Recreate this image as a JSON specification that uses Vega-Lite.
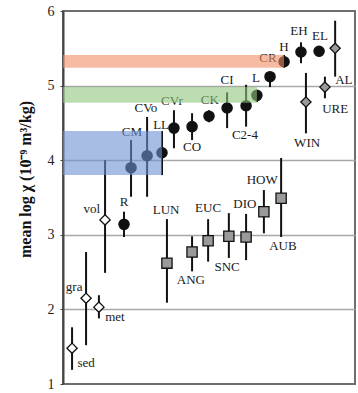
{
  "$schema": "https://vega.github.io/schema/vega-lite/v6.json",
  "autosize": {"type": "none"},
  "padding": {"left": 63, "top": 11, "right": 3, "bottom": 9},
  "width": 292,
  "height": 373,
  "background": "white",
  "config": {
    "view": {"stroke": "#6e6e6e", "strokeWidth": 2},
    "font": "Liberation Serif"
  },
  "datasets": {
    "pts": [
      {"name": "sed", "group": "terrestrial", "pos": 3.1, "val": 1.48, "lo": 1.19, "hi": 1.76, "lx": 7.9, "ly": 1.28},
      {"name": "gra", "group": "terrestrial", "pos": 7.9, "val": 2.15, "lo": 1.52, "hi": 2.77, "lx": 3.8, "ly": 2.30},
      {"name": "met", "group": "terrestrial", "pos": 12.3, "val": 2.03, "lo": 1.88, "hi": 2.19, "lx": 17.8, "ly": 1.90},
      {"name": "vol", "group": "terrestrial", "pos": 14.4, "val": 3.20, "lo": 2.49, "hi": 4.00, "lx": 9.9, "ly": 3.35},
      {"name": "R", "group": "chondrite", "pos": 20.9, "val": 3.14, "lo": 2.97, "hi": 3.31, "lx": 20.9, "ly": 3.44},
      {"name": "CM", "group": "chondrite", "pos": 23.3, "val": 3.90, "lo": 3.51, "hi": 4.27, "lx": 23.6, "ly": 4.38},
      {"name": "CVo", "group": "chondrite", "pos": 28.8, "val": 4.06, "lo": 3.51, "hi": 4.58, "lx": 28.4, "ly": 4.70},
      {"name": "LL", "group": "chondrite", "pos": 33.9, "val": 4.10, "lo": 3.80, "hi": 4.39, "lx": 33.6, "ly": 4.47},
      {"name": "LUN", "group": "achondrite", "pos": 35.6, "val": 2.62, "lo": 2.09, "hi": 3.21, "lx": 35.3, "ly": 3.33},
      {"name": "CVr", "group": "chondrite", "pos": 38.0, "val": 4.43, "lo": 4.16, "hi": 4.67, "lx": 37.3, "ly": 4.79},
      {"name": "CO", "group": "chondrite", "pos": 44.2, "val": 4.45, "lo": 4.27, "hi": 4.63, "lx": 44.2, "ly": 4.18},
      {"name": "ANG", "group": "achondrite", "pos": 44.2, "val": 2.77, "lo": 2.51, "hi": 2.98, "lx": 43.8, "ly": 2.39},
      {"name": "EUC", "group": "achondrite", "pos": 49.7, "val": 2.92, "lo": 2.64, "hi": 3.21, "lx": 49.7, "ly": 3.36},
      {"name": "CK", "group": "chondrite", "pos": 50.0, "val": 4.59, "lo": 4.51, "hi": 4.67, "lx": 50.3, "ly": 4.81},
      {"name": "CI", "group": "chondrite", "pos": 56.2, "val": 4.70, "lo": 4.43, "hi": 4.91, "lx": 56.2, "ly": 5.08},
      {"name": "SNC", "group": "achondrite", "pos": 56.8, "val": 2.98, "lo": 2.69, "hi": 3.29, "lx": 56.2, "ly": 2.57},
      {"name": "C2-4", "group": "chondrite", "pos": 62.7, "val": 4.73, "lo": 4.45, "hi": 5.01, "lx": 62.3, "ly": 4.34},
      {"name": "DIO", "group": "achondrite", "pos": 62.7, "val": 2.97, "lo": 2.66, "hi": 3.28, "lx": 62.3, "ly": 3.41},
      {"name": "L", "group": "chondrite", "pos": 66.4, "val": 4.87, "lo": 4.78, "hi": 4.94, "lx": 66.1, "ly": 5.10},
      {"name": "HOW", "group": "achondrite", "pos": 68.8, "val": 3.31, "lo": 3.02, "hi": 3.60, "lx": 68.2, "ly": 3.73},
      {"name": "CR", "group": "chondrite", "pos": 70.9, "val": 5.12, "lo": 4.98, "hi": 5.18, "lx": 70.2, "ly": 5.37},
      {"name": "AUB", "group": "achondrite", "pos": 74.7, "val": 3.49, "lo": 2.97, "hi": 4.03, "lx": 75.3, "ly": 2.85},
      {"name": "H", "group": "chondrite", "pos": 75.7, "val": 5.32, "lo": 5.24, "hi": 5.41, "lx": 75.7, "ly": 5.52},
      {"name": "EH", "group": "chondrite", "pos": 81.5, "val": 5.45, "lo": 5.30, "hi": 5.58, "lx": 80.8, "ly": 5.73},
      {"name": "WIN", "group": "primitive", "pos": 83.2, "val": 4.78, "lo": 4.36, "hi": 5.17, "lx": 83.6, "ly": 4.23},
      {"name": "EL", "group": "chondrite", "pos": 87.7, "val": 5.46, "lo": 5.40, "hi": 5.53, "lx": 88.0, "ly": 5.66},
      {"name": "URE", "group": "primitive", "pos": 89.7, "val": 4.98, "lo": 4.83, "hi": 5.12, "lx": 93.2, "ly": 4.69},
      {"name": "AL", "group": "primitive", "pos": 93.2, "val": 5.50, "lo": 5.12, "hi": 5.87, "lx": 96.2, "ly": 5.08}
    ],
    "bands": [
      {"cls": "LL", "x0": 0, "x1": 33.9, "y0": 3.80, "y1": 4.39},
      {"cls": "L", "x0": 0, "x1": 66.4, "y0": 4.77, "y1": 4.98},
      {"cls": "H", "x0": 0, "x1": 75.7, "y0": 5.24, "y1": 5.41}
    ]
  },
  "layer": [
    {
      "data": {"name": "pts"},
      "mark": {"type": "rule", "color": "#111111", "strokeWidth": 2},
      "encoding": {
        "x": {"field": "pos", "type": "quantitative", "scale": {"domain": [0, 100], "nice": false, "zero": false}, "axis": null},
        "y": {
          "field": "lo", "type": "quantitative",
          "scale": {"domain": [1, 6], "nice": false, "zero": false},
          "axis": {
            "values": [1, 1.5, 2, 2.5, 3, 3.5, 4, 4.5, 5, 5.5, 6],
            "labelExpr": "datum.value % 1 === 0 ? format(datum.value, 'd') : ''",
            "title": "mean log χ   (10⁻⁹ m³/kg)",
            "titleFont": "Liberation Serif",
            "titleFontWeight": "bold",
            "titleFontSize": 16,
            "titleColor": "#111111",
            "titlePadding": 14,
            "titleY": 168,
            "titleAlign": "center",
            "labelFont": "Liberation Serif",
            "labelFontSize": 14,
            "labelColor": "#222222",
            "labelPadding": 6,
            "tickSize": 3,
            "tickColor": "#444444",
            "tickWidth": 1,
            "domainColor": "#444444",
            "domainWidth": 2,
            "grid": true,
            "gridColor": "#a8a8a8",
            "gridWidth": 1.5,
            "gridOpacity": {"condition": {"test": "datum.value % 1 === 0 && datum.value > 1 && datum.value < 6", "value": 1}, "value": 0}
          }
        },
        "y2": {"field": "hi"}
      }
    },
    {
      "data": {"name": "pts"},
      "mark": {"type": "point", "filled": false, "stroke": "#111111", "strokeWidth": 1.3, "opacity": 1},
      "encoding": {
        "x": {"field": "pos", "type": "quantitative"},
        "y": {"field": "val", "type": "quantitative"},
        "shape": {"field": "group", "type": "nominal", "legend": null,
          "scale": {"domain": ["terrestrial", "primitive", "chondrite", "achondrite"], "range": ["diamond", "diamond", "circle", "square"]}},
        "fill": {"field": "group", "type": "nominal", "legend": null,
          "scale": {"domain": ["terrestrial", "primitive", "chondrite", "achondrite"], "range": ["#ffffff", "#9a9a9a", "#111111", "#9a9a9a"]}},
        "size": {"field": "group", "type": "nominal", "legend": null,
          "scale": {"domain": ["terrestrial", "primitive", "chondrite", "achondrite"], "range": [105, 105, 55, 50]}}
      }
    },
    {
      "data": {"name": "pts"},
      "mark": {"type": "text", "font": "Liberation Serif", "fontSize": 13, "color": "#1a1a1a", "align": "center", "baseline": "middle"},
      "encoding": {
        "x": {"field": "lx", "type": "quantitative"},
        "y": {"field": "ly", "type": "quantitative"},
        "text": {"field": "name", "type": "nominal"}
      }
    },
    {
      "data": {"name": "bands"},
      "mark": {"type": "rect", "opacity": 0.6},
      "encoding": {
        "x": {"field": "x0", "type": "quantitative"},
        "x2": {"field": "x1"},
        "y": {"field": "y0", "type": "quantitative"},
        "y2": {"field": "y1"},
        "color": {"field": "cls", "type": "nominal", "legend": null,
          "scale": {"domain": ["LL", "L", "H"], "range": ["#6c91d5", "#8fc67b", "#ee8e66"]}}
      }
    }
  ]
}
